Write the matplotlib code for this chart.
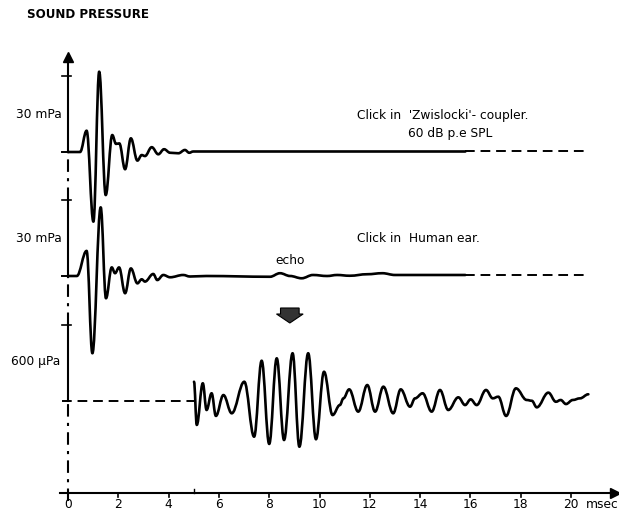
import matplotlib
matplotlib.use('Agg')
import matplotlib.pyplot as plt
from matplotlib.patches import Polygon, PathPatch
from matplotlib.path import Path

# Click in 'Zwislocki' coupler, time in msec, pressure in mPa
t_coupler = [0, 0.48, 0.74, 1.01, 1.24, 1.50, 1.76, 1.91, 2.04, 2.27, 2.50, 2.76, 2.93,
             3.06, 3.33, 3.59, 3.82, 4.06, 4.39, 4.65, 4.82, 4.98, 15.8]
p_coupler = [0, 0, 8.4, -27.5, 31.7, -17.0, 6.7, 3.2, 3.4, -6.8, 5.4, -3.4, -1.2,
             -1.6, 1.9, -0.9, 1.1, -0.3, -0.5, 0.8, -0.3, 0.2, 0.2]

# Click in human ear, mPa
t_ear = [0, 0.35, 0.74, 0.97, 1.30, 1.51, 1.74, 1.87, 2.03, 2.27, 2.50, 2.76, 2.93, 3.06,
         3.39, 3.55, 3.79, 4.06, 4.58, 4.85, 5.5, 8.03, 8.43, 8.83, 9.29, 9.74, 10.3,
         10.7, 11.2, 11.9, 12.5, 13.0, 15.8]
p_ear = [0, 0, 9.9, -30.5, 27.1, -8.8, 3.4, 1.1, 3.4, -6.8, 3.0, -2.9, -1.3, -2.2,
         0.8, -1.6, 0.4, -0.5, 0.4, -0.2, 0, -0.3, 1.1, 0, -0.9, 0.4, 0,
         0.4, 0.1, 0.7, 1.1, 0.4, 0.4]

# Echo from the ear, uPa
t_echo = [5.01, 5.12, 5.36, 5.51, 5.71, 5.88, 6.18, 6.51, 7.01, 7.40, 7.70, 8.00, 8.30,
          8.59, 8.93, 9.20, 9.55, 9.86, 10.18, 10.52, 10.81, 10.95, 11.18, 11.54, 11.90,
          12.21, 12.54, 12.93, 13.23, 13.60, 13.80, 14.10, 14.46, 14.79, 15.12, 15.52,
          15.79, 16.01, 16.25, 16.62, 16.89, 17.11, 17.42, 17.81, 18.24, 18.44, 18.64,
          19.10, 19.40, 19.59, 19.80, 20.07, 20.36, 20.69]
p_echo = [152, -189, 140, -71, 61, -118, 47, -97, 152, -282, 318, -339, 337,
          -308, 377, -361, 377, -302, 231, -111, -32, 21, 92, -84, 126,
          -84, 113, -97, 92, -45, 21, 61, -84, 87, -71, 29,
          -32, 13, -32, 87, 21, 34, -118, 100, 8, 2, -50,
          66, -6, 8, -24, 8, 21, 53]

xticks = [0, 2, 4, 6, 8, 10, 12, 14, 16, 18, 20]
t_end = 20.7

# vertical layout (units = pixels above the time axis)
base1, base2, base3 = 341, 217, 92
k_mpa = 76 / 30.0     # 30 mPa scale bar
k_upa = 76 / 600.0    # 600 uPa scale bar
lw = 1.9
fs = 8.8


def trace(ax, ts, ys, **kw):
    # smooth pen-recorder style curve: cubic segments with flat tangents at each point
    verts = [(ts[0], ys[0])]
    codes = [Path.MOVETO]
    for i in range(1, len(ts)):
        x0, y0, x1, y1 = ts[i - 1], ys[i - 1], ts[i], ys[i]
        d = (x1 - x0) * 0.38
        verts += [(x0 + d, y0), (x1 - d, y1), (x1, y1)]
        codes += [Path.CURVE4] * 3
    ax.add_patch(PathPatch(Path(verts, codes), fill=False, edgecolor='black',
                           lw=lw, joinstyle='round', capstyle='round'))


fig = plt.figure(figsize=(6.19, 5.15), dpi=100)
ax = fig.add_axes([0, 0, 1, 1])
ax.set_xlim(-68 / 25.15, 551 / 25.15)
ax.set_ylim(-22, 493)
ax.axis('off')

# traces
trace(ax, t_coupler, [base1 + v * k_mpa for v in p_coupler])
ax.plot([t_coupler[-1], t_end], [base1 + 0.2 * k_mpa] * 2, color='black', lw=1.4,
        ls=(0, (5, 3)))
trace(ax, t_ear, [base2 + v * k_mpa for v in p_ear])
ax.plot([t_ear[-1], t_end], [base2 + 0.4 * k_mpa] * 2, color='black', lw=1.4,
        ls=(0, (5, 3)))
ax.plot([-0.24, t_echo[0]], [base3, base3], color='black', lw=1.4, ls=(0, (5, 3)))
trace(ax, t_echo, [base3 + v * k_upa for v in p_echo])

# time axis
ax.plot([-0.33, 21.5], [0, 0], color='black', lw=1.5)
ax.plot(21.75, 0, marker='>', color='black', ms=7)
for t in xticks[1:]:
    ax.plot([t, t], [0, -4], color='black', lw=1.2)
    ax.text(t, -11, str(t), ha='center', va='center', fontsize=fs)
ax.text(0, -11, '0', ha='center', va='center', fontsize=fs)
ax.plot([5.0, 5.0], [0, 4], color='black', lw=1.0)
ax.text(20.6, -11, 'msec', ha='left', va='center', fontsize=fs)

# pressure axis: scale bars solid, gaps dash-dot
dashdot = (0, (6, 3, 1.5, 3))
ax.plot([0, 0], [base1, 432], color='black', lw=1.5)
ax.plot([0, 0], [base2, base2 + 76], color='black', lw=1.5)
ax.plot([0, 0], [base3, base3 + 76], color='black', lw=1.5)
ax.plot([0, 0], [base2 + 76, base1], color='black', lw=1.5, ls=dashdot)
ax.plot([0, 0], [base3 + 76, base2], color='black', lw=1.5, ls=dashdot)
ax.plot([0, 0], [-8, base3], color='black', lw=1.5, ls=dashdot)
ax.plot(0, 436, marker='^', color='black', ms=7)
for b in (base1, base2, base3):
    ax.plot([-0.24, 0.1], [b + 76, b + 76], color='black', lw=1.2)
ax.plot([-0.24, 0], [base1, base1], color='black', lw=1.4)
ax.plot([-0.24, 0], [base2, base2], color='black', lw=1.4)

ax.text(-1.63, 479, 'SOUND PRESSURE', ha='left', va='center', fontsize=8.6,
        fontweight='bold')
ax.text(-0.25, 379, '30 mPa', ha='right', va='center', fontsize=fs)
ax.text(-0.25, 255, '30 mPa', ha='right', va='center', fontsize=fs)
ax.text(-0.3, 131, '600 \u00b5Pa', ha='right', va='center', fontsize=fs)

ax.text(11.49, 378, "Click in  'Zwislocki'- coupler.", ha='left', va='center',
        fontsize=fs)
ax.text(15.19, 360, '60 dB p.e SPL', ha='center', va='center', fontsize=fs)
ax.text(11.49, 255, 'Click in  Human ear.', ha='left', va='center', fontsize=fs)
ax.text(8.83, 233, 'echo', ha='center', va='center', fontsize=fs)

# block arrow pointing at the echo
ax.add_patch(Polygon([(8.45, 185), (9.19, 185), (9.19, 179), (9.35, 179),
                      (8.82, 170), (8.29, 179), (8.45, 179)],
                     closed=True, facecolor='#333333', edgecolor='black', lw=0.8))

plt.savefig('out.png', dpi=100)
